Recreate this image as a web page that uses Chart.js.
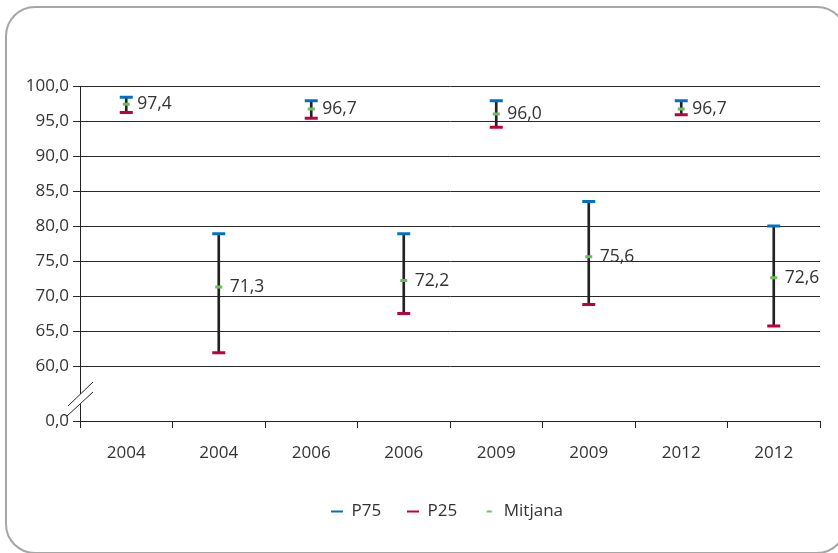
<!DOCTYPE html>
<html>
<head>
<meta charset="utf-8">
<script src="https://cdn.jsdelivr.net/npm/chart.js@4.4.0/dist/chart.umd.min.js"></script>
<style>
  html, body { margin: 0; padding: 0; background: #fff; overflow: hidden; }
  #marc { position: absolute; left: 5px; top: 6px; width: 842px; height: 548px;
          border: 2px solid #a6a6a6; border-radius: 30px; box-sizing: border-box; }
  #caixa { position: absolute; left: 0; top: 0; width: 838px; height: 553px; }
</style>
</head>
<body>
<div id="marc"></div>
<div id="caixa"><canvas id="grafic" width="838" height="553"></canvas></div>
<script>
// dades llegides del gràfic
const anys = ['2004', '2004', '2006', '2006', '2009', '2009', '2012', '2012'];
const p75 = [98.4, 78.9, 97.9, 78.9, 97.9, 83.5, 97.9, 80.0];
const p25 = [96.2, 61.9, 95.4, 67.5, 94.1, 68.8, 95.9, 65.7];
const mitjana = [97.4, 71.3, 96.7, 72.2, 96.0, 75.6, 96.7, 72.6];
const marquesY = [60, 65, 70, 75, 80, 85, 90, 95, 100];

// el "0,0" es dibuixa sota el tall de l'eix
const baseEix = 100 - 335 / 7;

const colorP75 = '#0070c0';
const colorP25 = '#c0003c';
const colorMitjana = '#6cbe5a';

function coma(v) {
  return v.toFixed(1).replace('.', ',');
}

function guio(color, ample) {
  const c = document.createElement('canvas');
  c.width = 12; c.height = 4;
  const g = c.getContext('2d');
  g.fillStyle = color;
  g.fillRect((12 - ample) / 2, 1, ample, 2);
  return c;
}

// etiquetes de la mitjana i tall de l'eix
const extres = {
  id: 'extres',
  afterLayout(chart) {
    // la llegenda de l'original està una mica desplaçada a la dreta
    chart.legend.left += 26;
    chart.legend.right += 26;
  },
  afterDatasetsDraw(chart) {
    const ctx = chart.ctx;
    const meta = chart.getDatasetMeta(3);
    ctx.save();
    ctx.font = '17.5px "Open Sans"';
    ctx.fillStyle = '#333';
    ctx.textBaseline = 'middle';
    meta.data.forEach((p, i) => {
      ctx.fillText(coma(mitjana[i]), p.x + 11, p.y);
    });
    ctx.restore();
  },
  afterDraw(chart) {
    const ctx = chart.ctx;
    const L = chart.chartArea.left;
    const B = chart.chartArea.bottom;
    ctx.save();
    ctx.fillStyle = '#fff';
    ctx.beginPath();
    ctx.moveTo(L - 12, B - 15);
    ctx.lineTo(L + 13, B - 39);
    ctx.lineTo(L + 13, B - 29);
    ctx.lineTo(L - 12, B - 5);
    ctx.closePath();
    ctx.fill();
    ctx.strokeStyle = '#222';
    ctx.lineWidth = 1;
    ctx.beginPath();
    ctx.moveTo(L - 12, B - 15); ctx.lineTo(L + 13, B - 39);
    ctx.moveTo(L - 13, B - 5); ctx.lineTo(L + 13, B - 29);
    ctx.stroke();
    ctx.restore();
  }
};

new Chart(document.getElementById('grafic'), {
  data: {
    labels: anys,
    datasets: [
      {
        type: 'bar',
        label: 'rang',
        data: p25.map((v, i) => [v, p75[i]]),
        backgroundColor: '#222',
        barThickness: 2,
        order: 4
      },
      {
        type: 'line',
        label: 'P75',
        data: p75,
        showLine: false,
        pointStyle: 'line',
        pointRadius: 6.5,
        pointHoverRadius: 6.5,
        borderWidth: 3,
        borderColor: colorP75,
        order: 1
      },
      {
        type: 'line',
        label: 'P25',
        data: p25,
        showLine: false,
        pointStyle: 'line',
        pointRadius: 6.5,
        pointHoverRadius: 6.5,
        borderWidth: 3,
        borderColor: colorP25,
        order: 2
      },
      {
        type: 'line',
        label: 'Mitjana',
        data: mitjana,
        showLine: false,
        pointStyle: 'line',
        pointRadius: 3.5,
        pointHoverRadius: 3.5,
        borderWidth: 3,
        borderColor: colorMitjana,
        order: 0
      }
    ]
  },
  options: {
    responsive: false,
    animation: false,
    devicePixelRatio: 1,
    layout: { padding: { left: 22, right: 18, top: 86, bottom: 23 } },
    scales: {
      x: {
        grid: { offset: true, drawOnChartArea: false, tickLength: 7, color: '#222' },
        border: { color: '#222' },
        ticks: { color: '#333', font: { family: 'Open Sans', size: 17 }, padding: 15 },
        afterFit(s) { s.height = 56; }
      },
      y: {
        min: baseEix,
        max: 100,
        afterBuildTicks(s) {
          s.ticks = [{ value: baseEix }].concat(marquesY.map(v => ({ value: v })));
        },
        grid: { color: '#2a2a2a', tickLength: 7 },
        border: { color: '#222' },
        ticks: {
          color: '#333',
          font: { family: 'Open Sans', size: 17 },
          padding: 4,
          callback: v => v < 55 ? '0,0' : coma(v)
        },
        afterFit(s) { s.width = 58; }
      }
    },
    plugins: {
      tooltip: { enabled: false },
      legend: {
        position: 'bottom',
        labels: {
          color: '#333',
          font: { family: 'Open Sans', size: 17 },
          usePointStyle: true,
          boxWidth: 12,
          boxHeight: 12,
          padding: 26,
          generateLabels() {
            return [
              { text: 'P75', pointStyle: guio(colorP75, 12), fontColor: '#333', datasetIndex: 1, lineWidth: 0 },
              { text: 'P25', pointStyle: guio(colorP25, 12), fontColor: '#333', datasetIndex: 2, lineWidth: 0 },
              { text: 'Mitjana', pointStyle: guio(colorMitjana, 5), fontColor: '#333', datasetIndex: 3, lineWidth: 0 }
            ];
          }
        }
      }
    }
  },
  plugins: [extres]
});
</script>
</body>
</html>
